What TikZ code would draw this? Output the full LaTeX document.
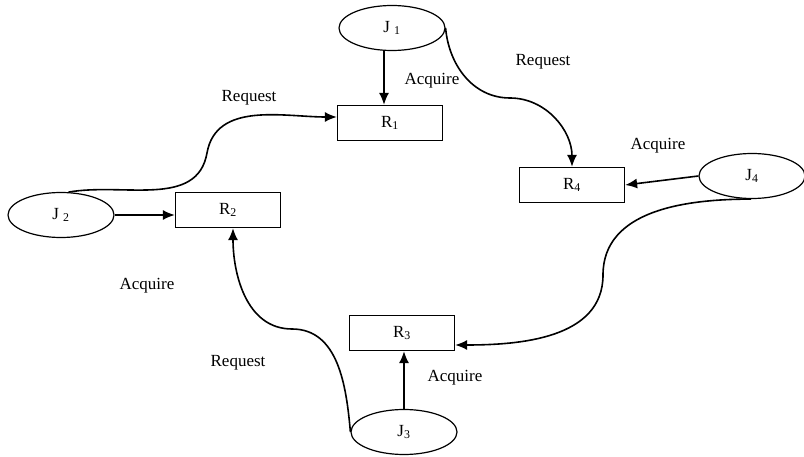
\documentclass[tikz,border=0pt]{standalone}
\usepackage{fontspec}
\setmainfont{Liberation Serif}
\usetikzlibrary{shapes.geometric,arrows.meta}

\tikzset{
  job/.style={ellipse,draw,line width=1.2pt,minimum width=106pt,minimum height=45pt,inner sep=0pt},
  res/.style={rectangle,draw,line width=1.2pt,minimum width=105pt,minimum height=35pt,inner sep=0pt},
  lbl/.style={inner sep=0.75pt},
  link/.style={line width=1.6pt,-{Latex[length=12pt,width=10pt]}}
}

\begin{document}
\begin{tikzpicture}[x=1pt,y=-1pt,font=\fontsize{17}{20}\selectfont]
\useasboundingbox (0,0) rectangle (804,457);
% jobs
\draw (392,28) node [job] (j1) {J \textsubscript{1}};
\draw (61,215) node [job] (j2) {J \textsubscript{2}};
\draw (404,432) node [job] (j3) {J\textsubscript{3}};
\draw (752,176) node [job] (j4) {J\textsubscript{4}};
% resources
\draw (390,123) node [res] (r1) {R\textsubscript{1}};
\draw (228,210) node [res] (r2) {R\textsubscript{2}};
\draw (402,333) node [res] (r3) {R\textsubscript{3}};
\draw (572,185) node [res] (r4) {R\textsubscript{4}};
% labels
\draw (432,81) node [lbl] (a1) {Acquire};
\draw (147,286) node [lbl] (a2) {Acquire};
\draw (455,378) node [lbl] (a3) {Acquire};
\draw (658,146) node [lbl] (a4) {Acquire};
\draw (249,98) node [lbl] (q1) {Request};
\draw (543,62) node [lbl] (q2) {Request};
\draw (238,363) node [lbl] (q3) {Request};
% bends
\coordinate (b1) at (207,153);
\coordinate (b2) at (510,98);
\coordinate (b3) at (603,275);
\coordinate (b4) at (292,329);
% acquire edges
\draw [link] (j1.south -| 384,0) -- (r1.north -| 384,0);
\draw [link] (j2.east) -- (r2.west |- j2.east);
\draw [link] (j3.north) -- (r3.south -| j3.north);
\draw [link] (j4.west) -- (r4.east);
% request edges
\draw [link] (j2.72) to[out=10,in=-100] (b1) to[out=80,in=180] ([yshift=6pt]r1.west);
\draw [link] (j1.east) to[out=-85,in=180] (b2) to[out=0,in=90] (r4.north);
\draw [link] (j4.-92) to[out=180,in=90] (b3) to[out=-90,in=0] ([yshift=-12pt]r3.east);
\draw [link] (j3.west) to[out=95,in=0] (b4) to[out=180,in=-90] ([xshift=5pt]r2.south);
\end{tikzpicture}
\end{document}
